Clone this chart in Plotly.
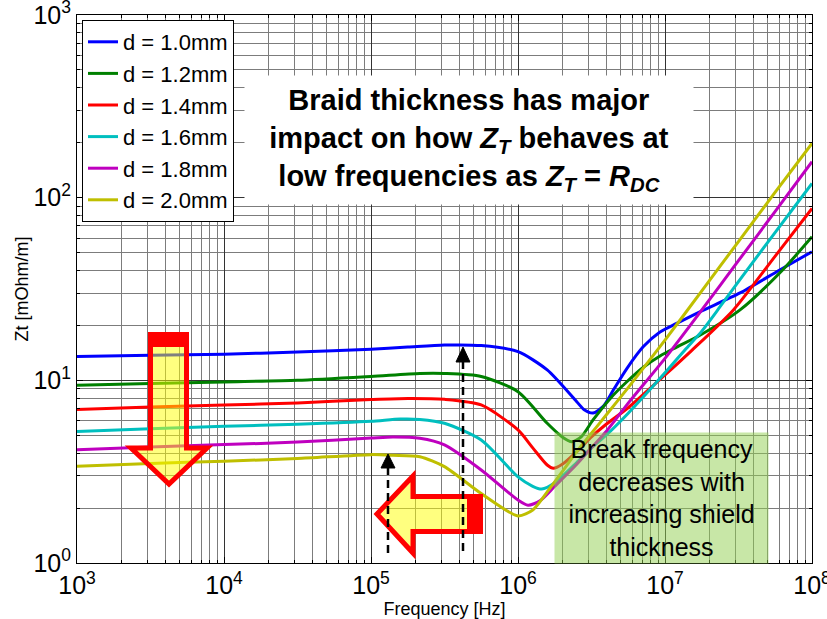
import plotly.graph_objects as go

# ---------------- data ----------------
freq_d10 = [1e3, 3.16e3, 1e4, 3.16e4, 1e5, 1.78e5, 3.16e5, 5.62e5, 1e6, 1.58e6, 2.51e6, 2.82e6,
            3.24e6, 3.80e6, 4.45e6, 5.50e6, 7.13e6, 9.25e6, 1.20e7, 1.74e7, 3.24e7, 6.03e7, 1e8]
zt_d10 = [13.5, 13.7, 13.9, 14.3, 14.8, 15.2, 15.6, 15.5, 14.35, 11.4, 7.64, 6.9,
          6.62, 7.2, 8.85, 11.6, 15.3, 18.4, 20.5, 23.8, 30.1, 40.2, 50.6]

freq_d12 = [1e3, 3.16e3, 1e4, 3.16e4, 1e5, 2.15e5, 3.16e5, 5.62e5, 1e6, 1.58e6, 2.0e6, 2.32e6,
            2.69e6, 3.24e6, 4.23e6, 5.50e6, 7.13e6, 9.25e6, 1.20e7, 1.74e7, 3.24e7, 6.31e7, 1e8]
zt_d12 = [9.4, 9.6, 9.8, 10.0, 10.5, 10.9, 10.9, 10.5, 8.67, 5.82, 4.90, 4.61,
          4.90, 6.07, 7.94, 9.82, 11.8, 13.6, 15.2, 17.7, 24.3, 40.2, 61.1]

freq_d14 = [1e3, 3.16e3, 1e4, 3.16e4, 1e5, 1.78e5, 3.16e5, 5.62e5, 1e6, 1.26e6, 1.58e6, 1.74e6,
            2.0e6, 2.51e6, 3.16e6, 3.98e6, 5.62e6, 1e7, 1.51e7, 2.92e7, 5.62e7, 1e8]
zt_d14 = [6.92, 7.14, 7.33, 7.52, 7.85, 7.96, 7.87, 7.33, 5.35, 4.27, 3.44, 3.30,
          3.47, 4.07, 4.90, 5.75, 7.08, 10.7, 14.5, 24.3, 47.9, 87.3]

freq_d16 = [1e3, 3.16e3, 1e4, 3.16e4, 1e5, 1.58e5, 2.15e5, 3.16e5, 5.62e5, 1e6, 1.26e6, 1.45e6,
            1.78e6, 2.51e6, 3.16e6, 3.98e6, 5.62e6, 1e7, 1.37e7, 1.78e7, 2.37e7, 3.16e7, 5.62e7, 1e8]
zt_d16 = [5.25, 5.43, 5.60, 5.75, 5.97, 6.14, 6.11, 5.82, 4.71, 2.96, 2.63, 2.54,
          2.75, 3.55, 4.27, 5.01, 6.61, 11.0, 14.7, 18.6, 25.3, 34.7, 64.6, 119.7]

freq_d18 = [1e3, 3.16e3, 1e4, 3.16e4, 1e5, 1.41e5, 2.15e5, 3.16e5, 5.62e5, 1e6, 1.17e6, 1.41e6,
            1.78e6, 2.51e6, 3.16e6, 3.98e6, 5.62e6, 1e7, 1.78e7, 3.16e7, 5.62e7, 1e8]
zt_d18 = [4.17, 4.32, 4.45, 4.59, 4.83, 4.90, 4.82, 4.43, 3.23, 2.21, 2.07, 2.19,
          2.63, 3.47, 4.27, 5.25, 7.50, 13.2, 24.3, 45.2, 84.1, 157.4]

freq_d20 = [1e3, 3.16e3, 1e4, 3.16e4, 1e5, 1.41e5, 2.15e5, 3.16e5, 5.62e5, 1e6, 1.26e6, 1.58e6,
            2.0e6, 2.51e6, 3.16e6, 3.98e6, 5.62e6, 1e7, 1.78e7, 3.16e7, 5.62e7, 1e8]
zt_d20 = [3.39, 3.51, 3.61, 3.73, 3.92, 3.89, 3.82, 3.37, 2.40, 1.81, 1.95, 2.45,
          3.16, 4.07, 5.13, 6.46, 9.12, 16.6, 30.9, 57.5, 107.2, 198.2]

series_names = ["d = 1.0mm", "d = 1.2mm", "d = 1.4mm", "d = 1.6mm", "d = 1.8mm", "d = 2.0mm"]
series_colors = ["rgb(0,0,255)", "rgb(0,128,0)", "rgb(255,0,0)",
                 "rgb(0,191,191)", "rgb(191,0,191)", "rgb(191,191,0)"]
series_freq = [freq_d10, freq_d12, freq_d14, freq_d16, freq_d18, freq_d20]
series_zt = [zt_d10, zt_d12, zt_d14, zt_d16, zt_d18, zt_d20]

x_tickvals = [1e3, 1e4, 1e5, 1e6, 1e7, 1e8]
x_ticktext = ["10<sup>3</sup>", "10<sup>4</sup>", "10<sup>5</sup>", "10<sup>6</sup>",
              "10<sup>7</sup>", "10<sup>8</sup>"]
y_tickvals = [1, 10, 100, 1000]
y_ticktext = ["10<sup>0</sup>", "10<sup>1</sup>", "10<sup>2</sup>", "10<sup>3</sup>"]

# ---------------- layout geometry ----------------
W, H = 827, 619
ML, MR, MT, MB = 77, 15, 15, 56
PW = W - ML - MR
PH = H - MT - MB


def px(x):
    return (x - ML) / PW


def py(y):
    return (H - MB - y) / PH


FONT = "Liberation Sans, Arial, sans-serif"

fig = go.Figure()
for name, f, z, c in zip(series_names, series_freq, series_zt, series_colors):
    fig.add_trace(go.Scatter(x=f, y=z, mode="lines", name=name,
                             line=dict(color=c, width=3, shape="spline", smoothing=0.7)))

minor_x = [m * 10 ** e for e in range(3, 8) for m in range(2, 10)]
minor_y = [m * 10 ** e for e in range(0, 3) for m in range(2, 10)]

axis_common = dict(
    type="log", showline=True, linecolor="black", linewidth=1, mirror="allticks",
    ticks="inside", ticklen=6, tickcolor="black",
    showgrid=True, gridcolor="#333333", gridwidth=1, zeroline=False,
    tickfont=dict(family=FONT, size=25, color="black"),
    ticklabeloverflow="allow", automargin=False,
)

fig.update_layout(
    width=W, height=H, autosize=False,
    margin=dict(l=ML, r=MR, t=MT, b=MB, autoexpand=False),
    paper_bgcolor="white", plot_bgcolor="white",
    font=dict(family=FONT, color="black"),
    xaxis=dict(**axis_common, range=[3, 8], tickmode="array", tickvals=x_tickvals, ticktext=x_ticktext,
               minor=dict(tickmode="array", tickvals=minor_x, showgrid=True, gridcolor="#7c7c7c",
                          ticks="inside", ticklen=3, tickcolor="black"),
               title=dict(text="Frequency [Hz]", font=dict(family=FONT, size=18), standoff=6)),
    yaxis=dict(**axis_common, range=[0, 3], tickmode="array", tickvals=y_tickvals, ticktext=y_ticktext,
               minor=dict(tickmode="array", tickvals=minor_y, showgrid=True, gridcolor="#7c7c7c",
                          ticks="inside", ticklen=3, tickcolor="black"),
               title=dict(text="Zt [mOhm/m]", font=dict(family=FONT, size=18), standoff=0)),
    legend=dict(x=px(82), y=py(20), xanchor="left", yanchor="top",
                bgcolor="white", bordercolor="black", borderwidth=1,
                font=dict(family=FONT, size=22, color="black")),
    showlegend=True,
)

# ---------------- annotations ----------------
fig.add_annotation(
    xref="paper", yref="paper", x=px(469), y=py(140), xanchor="center", yanchor="middle",
    showarrow=False,
    text="<b>Braid thickness has major<br>impact on how <i>Z<sub>T</sub></i> behaves at<br>"
         "low frequencies as <i>Z<sub>T</sub></i> = <i>R<sub>DC</sub></i></b>",
    font=dict(family=FONT, size=29, color="black"),
    bgcolor="white", width=448, height=128, borderpad=0,
)

fig.add_annotation(
    xref="paper", yref="paper", x=px(661.5), y=py(498), xanchor="center", yanchor="middle",
    showarrow=False,
    text="Break frequency<br>decreases with<br>increasing shield<br>thickness",
    font=dict(family=FONT, size=25, color="black"),
    bgcolor="rgba(146,208,80,0.5)", width=213, height=130, borderpad=0,
)


def path(points):
    return "M " + " L ".join(f"{px(a):.5f},{py(b):.5f}" for a, b in points) + " Z"


ARROW_FILL = "rgba(255,255,0,0.5)"
RED = "rgb(255,0,0)"

# big down arrow
fig.add_shape(type="path", xref="paper", yref="paper", layer="above",
              path=path([(150.5, 336), (150.5, 448), (131, 448), (169, 484), (207, 448),
                         (186.5, 448), (186.5, 336)]),
              fillcolor=ARROW_FILL, line=dict(color=RED, width=5))
fig.add_shape(type="rect", xref="paper", yref="paper", layer="above",
              x0=px(148), x1=px(189), y0=py(332), y1=py(347),
              fillcolor=RED, line=dict(width=0))

# big left arrow
fig.add_shape(type="path", xref="paper", yref="paper", layer="above",
              path=path([(480, 496.5), (413, 496.5), (413, 476), (377, 514), (413, 553),
                         (413, 531.5), (480, 531.5)]),
              fillcolor=ARROW_FILL, line=dict(color=RED, width=5))
fig.add_shape(type="rect", xref="paper", yref="paper", layer="above",
              x0=px(467), x1=px(483), y0=py(494), y1=py(534),
              fillcolor=RED, line=dict(width=0))

# dashed black arrows
for xa, ybot, ybase, ytip in [(463, 551, 362, 347), (388, 553, 468, 454)]:
    fig.add_shape(type="line", xref="paper", yref="paper", layer="above",
                  x0=px(xa), x1=px(xa), y0=py(ybot), y1=py(ybase),
                  line=dict(color="black", width=2.5, dash="8px,5px"))
    fig.add_shape(type="path", xref="paper", yref="paper", layer="above",
                  path=path([(xa - 7, ybase), (xa + 7, ybase), (xa, ytip)]),
                  fillcolor="black", line=dict(color="black", width=1))

fig.write_html("out.html")
